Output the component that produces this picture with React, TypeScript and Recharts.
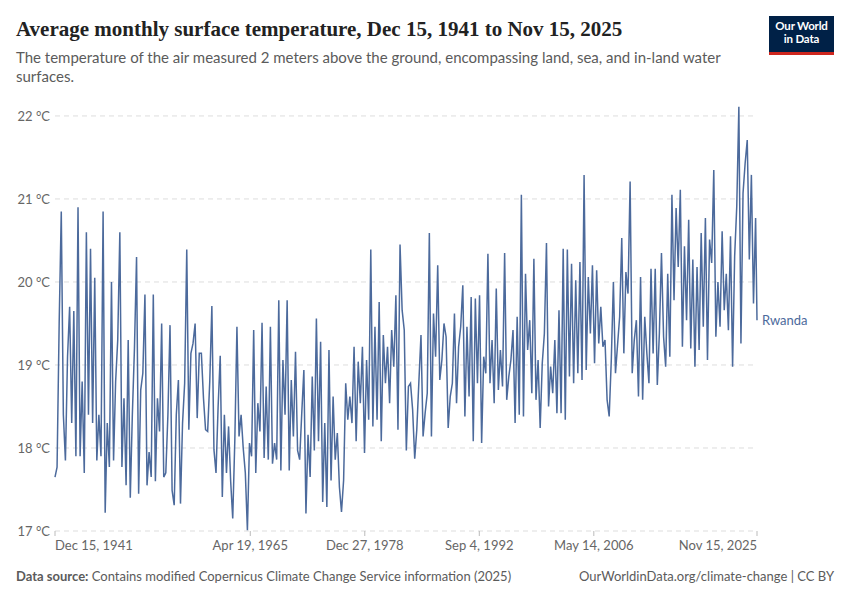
import React from 'react'
import { LineChart, Line, XAxis, YAxis, ReferenceLine, LabelList } from 'recharts'

// quarterly readings (Mar, Jun, Sep, Dec) in °C, first value is Dec 1941
const t1940s = [
  17.65,
  17.77, 19.5, 20.85, 18.4,
  17.85, 19.1, 19.7, 18.3,
  19.65, 17.9, 20.9, 17.9,
  18.8, 17.7, 20.6, 18.4,
  20.4, 18.3, 20.05, 17.85,
  18.4, 17.9, 20.85, 17.22,
  18.3, 17.77, 20.0, 17.85,
  18.8, 19.3, 20.6, 17.77,
]
const t1950s = [
  18.6, 17.55, 19.3, 17.4,
  18.4, 19.2, 20.3, 17.45,
  18.7, 18.9, 19.85, 17.55,
  17.95, 17.65, 19.85, 17.6,
  18.6, 18.2, 19.5, 17.65,
  17.7, 18.4, 19.48, 17.49,
  17.31, 18.4, 18.82, 17.33,
  18.3, 18.78, 20.39, 18.22,
  19.14, 19.26, 19.5, 18.36,
  19.14, 19.14, 18.6, 18.22,
]
const t1960s = [
  18.2, 18.8, 19.71, 17.98,
  17.7, 18.5, 19.11, 17.41,
  18.4, 17.7, 18.26, 17.6,
  17.15, 18.1, 19.46, 18.14,
  18.4, 18.0, 17.7, 17.01,
  18.06, 17.9, 19.42, 17.7,
  18.54, 18.2, 19.51, 17.88,
  18.74, 17.86, 19.46, 17.81,
  18.06, 17.86, 19.78, 17.73,
  19.06, 18.4, 19.78, 17.73,
]
const t1970s = [
  18.82, 18.14, 19.16, 17.97,
  17.86, 18.42, 18.94, 17.21,
  18.16, 17.65, 18.86, 17.97,
  19.56, 18.08, 19.28, 17.35,
  18.3, 17.29, 19.18, 17.61,
  18.62, 17.86, 18.18, 17.53,
  17.23, 17.61, 18.78, 18.34,
  18.62, 18.3, 19.22, 18.08,
  19.04, 18.54, 19.22, 17.94,
  19.06, 18.34, 20.39, 18.26,
]
const t1980s = [
  19.46, 18.34, 19.76, 18.08,
  19.36, 18.78, 19.22, 18.54,
  19.42, 18.98, 19.84, 18.22,
  20.45, 19.66, 19.42, 17.97,
  18.74, 18.78, 18.46, 17.87,
  18.22, 18.8, 19.36, 18.14,
  18.42, 18.66, 20.59, 18.14,
  19.62, 19.1, 20.2, 18.82,
  19.06, 19.5, 19.34, 18.24,
  18.62, 18.78, 19.62, 18.54,
]
const t1990s = [
  19.22, 19.46, 19.96, 18.38,
  19.46, 18.62, 19.82, 18.08,
  19.8, 18.78, 19.84, 18.06,
  19.1, 18.9, 20.34, 18.78,
  19.3, 18.54, 19.92, 18.7,
  19.18, 18.74, 20.35, 18.58,
  18.86, 19.06, 19.42, 18.3,
  19.58, 18.4, 21.05, 18.38,
  20.1, 19.18, 19.54, 18.66,
  20.28, 18.58, 19.06, 18.24,
]
const t2000s = [
  19.02, 19.38, 20.47, 18.5,
  18.98, 18.66, 19.3, 18.42,
  19.66, 18.42, 20.4, 18.34,
  20.39, 18.86, 20.22, 18.78,
  20.02, 18.9, 20.24, 18.82,
  21.29, 18.94, 20.06, 19.38,
  20.2, 19.02, 20.14, 19.26,
  19.7, 19.22, 19.3, 18.58,
  18.38, 19.06, 20.0, 18.9,
  19.24, 19.58, 20.53, 19.14,
]
const t2010s = [
  20.12, 19.86, 21.21, 18.9,
  19.3, 19.54, 18.62, 20.06,
  18.58, 19.58, 19.14, 18.78,
  20.16, 19.14, 20.16, 18.76,
  19.38, 20.35, 19.34, 18.98,
  20.1, 19.1, 21.05, 19.78,
  20.89, 20.18, 21.11, 19.22,
  20.43, 19.54, 20.75, 19.2,
  20.27, 18.98, 20.18, 19.18,
  20.59, 19.46, 20.77, 19.06,
]
// 2025 ends with Nov instead of Dec
const t2020s = [
  20.51, 20.23, 21.35, 19.34,
  20.0, 19.46, 20.61, 19.66,
  20.1, 19.42, 20.55, 18.98,
  20.31, 20.91, 22.11, 19.26,
  21.07, 21.43, 21.71, 20.27,
  21.29, 19.74, 20.77, 19.54,
]

const yTicks = [17, 18, 19, 20, 21, 22]
const xTickDates = [
  Date.UTC(1941, 11, 15),
  Date.UTC(1965, 3, 19),
  Date.UTC(1978, 11, 27),
  Date.UTC(1992, 8, 4),
  Date.UTC(2006, 4, 14),
  Date.UTC(2025, 10, 15),
]
const xTickLabels = ['Dec 15, 1941', 'Apr 19, 1965', 'Dec 27, 1978', 'Sep 4, 1992', 'May 14, 2006', 'Nov 15, 2025']
const countryName = 'Rwanda'

const sampleDates: number[] = [Date.UTC(1941, 11, 15)]
for (let y = 1942; y <= 2025; y++) {
  const months = y === 2025 ? [2, 5, 8, 10] : [2, 5, 8, 11]
  for (const m of months) sampleDates.push(Date.UTC(y, m, 15))
}

const temps = [...t1940s, ...t1950s, ...t1960s, ...t1970s, ...t1980s, ...t1990s, ...t2000s, ...t2010s, ...t2020s]
const data = sampleDates.map((date, i) => ({ date, temp: temps[i] }))

const BLUE = '#4c6a9c'
const GREY = '#666'
const FONT = 'Lato, "Noto Sans", sans-serif'

function DateTick(props: any) {
  const { x, y, payload } = props
  const i = xTickDates.indexOf(payload.value)
  const anchor = i === 0 ? 'start' : i === xTickDates.length - 1 ? 'end' : 'middle'
  return (
    <text x={x} y={y} dy="0.71em" textAnchor={anchor} fill={GREY} fontSize={13} fontFamily={FONT}>
      {xTickLabels[i]}
    </text>
  )
}

function EndLabel(props: any) {
  const { x, y, index } = props
  if (index !== data.length - 1) return null
  return (
    <text x={x + 5} y={y} dy={5} fill={BLUE} fontSize={13} fontFamily={FONT}>
      {countryName}
    </text>
  )
}

export default function App() {
  return (
    <div style={{ position: 'absolute', left: 0, top: 0, width: 850, height: 600, background: '#fff', fontFamily: FONT }}>
      <div
        style={{
          position: 'absolute',
          left: 16,
          top: 17,
          fontFamily: '"Liberation Serif", serif',
          fontWeight: 700,
          fontSize: 21,
          lineHeight: '24px',
          color: '#222',
          whiteSpace: 'nowrap',
        }}
      >
        Average monthly surface temperature, Dec 15, 1941 to Nov 15, 2025
      </div>
      <div style={{ position: 'absolute', left: 16, top: 48, fontSize: 15, lineHeight: '19px', color: '#5b5b5b' }}>
        The temperature of the air measured 2 meters above the ground, encompassing land, sea, and in-land water
        <br />
        surfaces.
      </div>

      <div
        style={{
          position: 'absolute',
          left: 769,
          top: 16,
          width: 65,
          height: 33,
          background: '#002147',
          borderBottom: '3px solid #ce261e',
          color: '#fff',
          fontSize: 11.5,
          fontWeight: 700,
          lineHeight: '13px',
          textAlign: 'center',
          paddingTop: 3,
          boxSizing: 'content-box',
          letterSpacing: -0.2,
        }}
      >
        <div>Our World</div>
        <div>in Data</div>
      </div>

      <div style={{ position: 'absolute', left: 0, top: 0 }}>
        <LineChart width={850} height={600} data={data} margin={{ top: 103.5, right: 93, bottom: 39, left: 0 }}>
          <XAxis
            dataKey="date"
            type="number"
            domain={[xTickDates[0], xTickDates[xTickDates.length - 1]]}
            ticks={xTickDates}
            interval={0}
            axisLine={false}
            tickLine={{ stroke: '#bbb' }}
            tickSize={5}
            tickMargin={5}
            height={30}
            tick={<DateTick />}
          />
          <YAxis
            type="number"
            domain={[17, 22.15]}
            ticks={yTicks}
            interval={0}
            axisLine={false}
            tickLine={false}
            tickSize={0}
            tickMargin={5}
            width={55}
            tick={{ fill: GREY, fontSize: 13, fontFamily: FONT }}
            tickFormatter={(v: number) => `${v} °C`}
          />
          {yTicks.map((t) => (
            <ReferenceLine key={t} y={t} stroke="#ddd" strokeDasharray="5 4" />
          ))}
          <Line
            type="linear"
            dataKey="temp"
            stroke={BLUE}
            strokeWidth={1.5}
            dot={false}
            isAnimationActive={false}
          >
            <LabelList dataKey="temp" content={<EndLabel />} />
          </Line>
        </LineChart>
      </div>

      <div style={{ position: 'absolute', left: 16, top: 568, fontSize: 13, lineHeight: '16px', color: '#5b5b5b' }}>
        <b>Data source:</b> Contains modified Copernicus Climate Change Service information (2025)
      </div>
      <div style={{ position: 'absolute', right: 16, top: 568, fontSize: 13, lineHeight: '16px', color: '#5b5b5b' }}>
        OurWorldinData.org/climate-change | CC BY
      </div>
    </div>
  )
}
